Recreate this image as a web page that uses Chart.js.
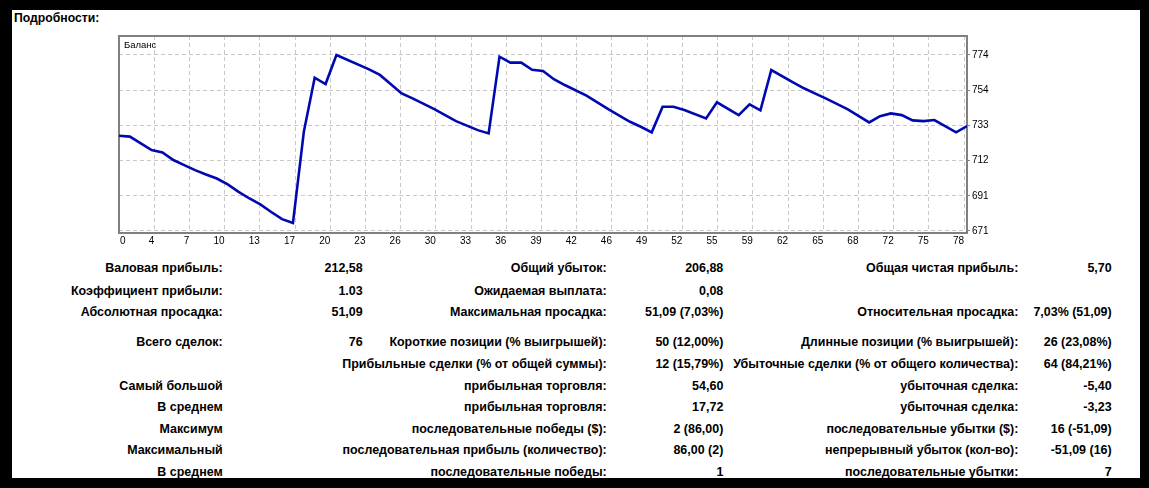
<!DOCTYPE html>
<html><head><meta charset="utf-8">
<script src="https://cdn.jsdelivr.net/npm/chart.js@4"></script>
<style>
html,body{margin:0;padding:0;background:#000;width:1149px;height:488px;overflow:hidden}
#page{position:absolute;left:12px;top:10px;width:1128px;height:468px;background:#fff}
#wrap{position:absolute;left:0;top:0;width:1149px;height:260px}
.t{position:absolute;white-space:nowrap;font-family:"Liberation Sans";font-weight:bold;color:#000;line-height:14px;height:14px}
#bal{position:absolute;left:124px;top:39px;font-family:"Liberation Sans";font-size:9.5px;color:#000;line-height:12px}
</style></head><body>
<div id="page"></div>
<div id="title" class="t">Подробности:</div>
<div id="wrap"><canvas id="c" width="1149" height="260"></canvas></div>
<div id="bal">Баланс</div>
<div id="table"></div>
<script>
// ---- data ----
const tradeIndex = [0,1,3,4,5,6,7,8,9,10,11,12,13,14,15,16,17,18,19,20,23,24,26,27,29,31,33,34,35,36,37,38,39,40,41,43,45,47,48,49,50,51,52,54,55,57,58,59,60,62,63,64,65,67,69,70,71,72,73,74,75,77,78];
const balance = [726.7,726.2,718.3,717.0,712.5,709.5,706.6,704.0,701.7,698.2,693.9,690.0,686.5,682.1,677.9,675.6,729.0,760.7,757.0,774.0,765.6,762.3,751.5,748.6,742.3,735.3,730.0,728.1,773.0,769.5,769.5,765.3,764.6,759.8,756.4,750.2,742.3,734.9,732.0,728.7,743.7,743.7,741.8,736.9,746.3,738.8,745.1,741.6,765.2,758.0,754.5,751.5,748.6,742.3,734.5,738.2,739.8,738.8,735.7,735.3,735.9,728.7,732.4];
const xTickLabels = ['0','4','7','10','13','17','20','23','26','30','33','36','39','42','46','49','52','55','59','62','65','68','72','75','78'];
const yTickValues = [671, 691.6, 712.2, 732.8, 753.4, 774];
const yTickLabels = ['671','691','712','733','754','774'];

const rowLabels1 = ['Валовая прибыль:','Коэффициент прибыли:','Абсолютная просадка:','Всего сделок:','','Самый большой','В среднем','Максимум','Максимальный','В среднем'];
const rowValues1 = ['212,58','1.03','51,09','76','','','','','',''];
const rowLabels2 = ['Общий убыток:','Ожидаемая выплата:','Максимальная просадка:','Короткие позиции (% выигрышей):','Прибыльные сделки (% от общей суммы):','прибыльная торговля:','прибыльная торговля:','последовательные победы ($):','последовательная прибыль (количество):','последовательные победы:'];
const rowValues2 = ['206,88','0,08','51,09 (7,03%)','50 (12,00%)','12 (15,79%)','54,60','17,72','2 (86,00)','86,00 (2)','1'];
const rowLabels3 = ['Общая чистая прибыль:','','Относительная просадка:','Длинные позиции (% выигрышей):','Убыточные сделки (% от общего количества):','убыточная сделка:','убыточная сделка:','последовательные убытки ($):','непрерывный убыток (кол-во):','последовательные убытки:'];
const rowValues3 = ['5,70','','7,03% (51,09)','26 (23,08%)','64 (84,21%)','-5,40','-3,23','16 (-51,09)','-51,09 (16)','7'];

// ---- layout ----
const rowCenters = [268.3,290.5,311.7,342.3,364,386,407,429,450,471.5];
const colRight = [222.7,362.7,606.7,723.3,1018.3,1111.7];

function fitSize(text, target, family, weight){
  const c = document.createElement('canvas').getContext('2d');
  c.font = weight + ' 100px "' + family + '"';
  return 100 * target / c.measureText(text).width;
}
const tblSize = fitSize('Убыточные сделки (% от общего количества):', 285.6, 'Liberation Sans', 'bold');
const titleSize = fitSize('Подробности:', 85.5, 'Liberation Sans', 'bold');
const title = document.getElementById('title');
title.style.fontSize = titleSize + 'px'; title.style.left = '14px'; title.style.top = (17.5 - 7) + 'px';

const table = document.getElementById('table');
const cols = [rowLabels1,rowValues1,rowLabels2,rowValues2,rowLabels3,rowValues3];
rowCenters.forEach((yc, r) => {
  cols.forEach((col, ci) => {
    const txt = col[r];
    if (!txt) return;
    const d = document.createElement('div');
    d.className = 't';
    d.textContent = txt;
    d.style.fontSize = tblSize + 'px';
    d.style.right = (1149 - colRight[ci]) + 'px';
    d.style.top = (yc - 7) + 'px';
    table.appendChild(d);
  });
});

// ---- chart ----
const X_GRID_STEP = 3.239;
const framePlugin = {
  id: 'frame',
  beforeDatasetsDraw(chart){
    const {ctx, chartArea:a} = chart;
    ctx.save();
    ctx.strokeStyle = '#808080';
    ctx.lineWidth = 2;
    ctx.strokeRect(a.left, a.top, a.right - a.left, a.bottom - a.top);
    ctx.restore();
  },
  afterDraw(chart){
    // x tick labels: right-aligned to their grid line, first one left-aligned (MT4 style)
    const {ctx, chartArea:a} = chart;
    const xs = chart.scales.x;
    ctx.save();
    ctx.font = '10px "Liberation Sans"';
    ctx.fillStyle = '#000';
    ctx.textBaseline = 'top';
    xs.ticks.forEach((t, i) => {
      const px = xs.getPixelForValue(t.value);
      ctx.textAlign = i === 0 ? 'left' : 'right';
      ctx.fillText(xTickLabels[i], i === 0 ? px + 1 : px, a.bottom + 3);
    });
    ctx.restore();
  }
};

new Chart(document.getElementById('c'), {
  type: 'line',
  data: {
    datasets: [{
      label: 'Баланс',
      data: tradeIndex.map((x, i) => ({x: x, y: balance[i]})),
      borderColor: '#0008b0',
      borderWidth: 2.6,
      pointRadius: 0,
      tension: 0,
      fill: false
    }]
  },
  options: {
    responsive: false,
    animation: false,
    events: [],
    layout: {padding: {left: 119, top: 36, right: 142, bottom: 7}},
    plugins: {legend: {display: false}, tooltip: {enabled: false}},
    scales: {
      x: {
        type: 'linear', min: 0, max: 78,
        afterBuildTicks(s){ s.ticks = xTickLabels.map((_, i) => ({value: i * X_GRID_STEP})); },
        afterFit(s){ s.height = 20; },
        ticks: {display: false, autoSkip: false, maxRotation: 0, minRotation: 0},
        grid: {color: '#c8c8c8', lineWidth: 1, drawTicks: false},
        border: {display: false, dash: [4, 3]}
      },
      y: {
        type: 'linear', position: 'right', min: 669.8, max: 785.1,
        afterBuildTicks(s){ s.ticks = yTickValues.map(v => ({value: v})); },
        afterFit(s){ s.width = 40; },
        ticks: {autoSkip: false, padding: 2, color: '#000', font: {family: 'Liberation Sans', size: 10},
          callback: (v, i) => yTickLabels[i]},
        grid: {color: '#c8c8c8', lineWidth: 1, drawTicks: true, tickLength: 3, tickColor: '#808080'},
        border: {display: false, dash: [4, 3]}
      }
    }
  },
  plugins: [framePlugin]
});
</script>
</body></html>
